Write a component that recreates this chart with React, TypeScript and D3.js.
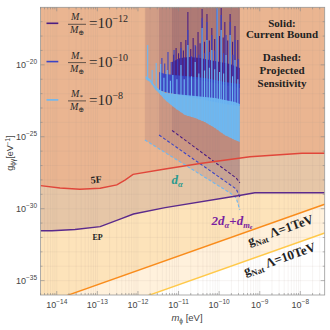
import React from 'react';
import * as d3 from 'd3';

// axis ranges, in log10 units
const mLogRange = [-14.4, -7.4];
const gLogRange = [-36, -16];
const xTickExps = [-14, -13, -12, -11, -10, -9, -8];
const yTickExps = [-35, -30, -25, -20];

// current bounds [log10 m, log10 g]
const fifthForce = [[-14.4, -28.4], [-13.92, -28.56], [-13.43, -28.65], [-12.93, -28.58], [-12.52, -28.35], [-12.32, -28.01], [-12.12, -27.61], [-11.33, -27.24], [-10.47, -26.86], [-9.24, -26.39], [-7.96, -26.15], [-7.4, -26.15]];
const eqPrinciple = [[-14.4, -31.53], [-14.12, -31.53], [-13.55, -31.45], [-12.93, -31.25], [-12.44, -30.72], [-12.11, -30.37], [-11.33, -29.93], [-9.54, -29.1], [-9.12, -28.89], [-7.4, -28.89]];
const gNat1TeV = [[-14.4, -36.69], [-7.4, -29.69]];
const gNat10TeV = [[-14.4, -38.69], [-7.4, -31.69]];

// M*/M_earth = 1e-12, 1e-10, 1e-8
const massExps = ['−12', '−10', '−8'];
const massColors = ['#4b1d82', '#3a44c6', '#6db8f2'];

// dense oscillating bound: [log10 m, upper log10 g, lower log10 g]
const bandM12 = [[-11.16, -19.8, -20.78], [-10.96, -19.52, -20.78], [-10.72, -19.46, -20.91], [-10.47, -19.52, -21.05], [-10.23, -19.66, -21.19], [-9.98, -19.8, -21.33], [-9.73, -19.94, -21.47], [-9.49, -20.22, -21.61]];
const bandM10 = [[-11.48, -20.5, -21.75], [-11.33, -20.64, -21.89], [-11.09, -20.71, -22.03], [-10.84, -20.78, -22.17], [-10.59, -20.85, -22.31], [-10.35, -20.91, -22.44], [-10.1, -21.05, -22.58], [-9.86, -21.19, -22.72], [-9.49, -21.33, -22.86]];
const bandM8 = [[-11.81, -20.78, -20.98], [-11.7, -20.98, -21.19], [-11.58, -21.47, -21.68], [-11.46, -21.75, -22.03], [-11.33, -21.96, -22.44], [-11.09, -22.03, -23.0], [-10.84, -22.1, -23.49], [-10.59, -22.17, -23.7], [-10.35, -22.24, -23.98], [-10.1, -22.31, -24.39], [-9.86, -22.44, -24.88], [-9.61, -22.58, -25.22], [-9.49, -22.72, -25.36]];

// resonance peaks [log10 m, peak log10 g]
const spikesM12 = [[-11.12, -19.3], [-11.06, -18.83], [-11.0, -19.2], [-10.94, -18.41], [-10.88, -19.0], [-10.82, -18.27], [-10.77, -16.33], [-10.7, -18.9], [-10.64, -18.13], [-10.58, -18.7], [-10.52, -17.72], [-10.47, -18.5], [-10.42, -16.12], [-10.36, -18.4], [-10.3, -16.47], [-10.24, -18.3], [-10.18, -17.44], [-10.11, -18.2], [-10.05, -16.05], [-9.99, -18.0], [-9.95, -16.05], [-9.9, -18.1], [-9.86, -17.02], [-9.79, -18.3], [-9.73, -16.47], [-9.67, -18.4], [-9.61, -17.3], [-9.54, -18.27]];
const spikesM10 = [[-11.41, -19.52], [-11.34, -19.9], [-11.26, -19.11], [-11.18, -19.8], [-11.11, -18.97], [-11.02, -19.6], [-10.94, -18.83], [-10.86, -19.5], [-10.77, -17.58], [-10.68, -19.4], [-10.59, -18.62], [-10.5, -19.3], [-10.42, -16.74], [-10.36, -19.2], [-10.3, -17.02], [-10.24, -19.1], [-10.18, -17.93], [-10.11, -19.0], [-10.05, -16.19], [-9.95, -16.54], [-9.89, -19.2], [-9.83, -17.93], [-9.73, -17.02], [-9.66, -19.3], [-9.61, -18.27], [-9.53, -19.6]];
const spikesM8 = [[-11.76, -18.62], [-11.65, -20.36], [-11.55, -19.87], [-11.44, -19.94], [-11.36, -20.9], [-11.28, -20.36], [-11.2, -21.1], [-11.14, -20.71], [-11.04, -21.0], [-10.94, -20.01], [-10.86, -21.0], [-10.77, -18.62], [-10.68, -20.8], [-10.59, -19.8], [-10.5, -20.6], [-10.42, -17.44], [-10.36, -20.4], [-10.3, -18.27], [-10.24, -20.2], [-10.18, -18.97], [-10.11, -20.3], [-10.05, -16.05], [-9.99, -20.5], [-9.95, -17.58], [-9.89, -20.6], [-9.83, -19.32], [-9.73, -17.93], [-9.67, -20.8], [-9.61, -19.66], [-9.54, -21.0]];

// projected sensitivity (dashed)
const dashM12 = [[-11.16, -24.56], [-9.58, -27.87], [-9.49, -28.21]];
const dashM10 = [[-11.48, -24.88], [-9.58, -28.63], [-9.49, -29.19]];
const dashM8 = [[-11.83, -25.22], [-9.73, -28.91], [-9.58, -29.26], [-9.49, -30.09]];

const bands = [bandM12, bandM10, bandM8];
const spikes = [spikesM12, spikesM10, spikesM8];
const dashes = [dashM12, dashM10, dashM8];

const L = 40.5, R = 324.7, T = 7.3, B = 295;
const serif = '"Liberation Serif", "DejaVu Serif", serif';
const sans = '"Liberation Sans", Arial, sans-serif';

export default function App() {
  const x = d3.scaleLog().domain(mLogRange.map(v => 10 ** v)).range([L, R]);
  const y = d3.scaleLog().domain(gLogRange.map(v => 10 ** v)).range([B, T]);
  const px = (e: number) => x(10 ** e);
  const py = (e: number) => y(10 ** e);

  const line = d3.line<number[]>().x(d => px(d[0])).y(d => py(d[1]));
  const toTop = d3.area<number[]>().x(d => px(d[0])).y0(T).y1(d => py(d[1]));
  const band = d3.area<number[]>().x(d => px(d[0])).y0(d => py(d[2])).y1(d => py(d[1]));

  const xMinor: number[] = [];
  for (let d = -15; d <= -8; d++) {
    for (let k = 1; k <= 9; k++) {
      const v = d + Math.log10(k);
      if (v > mLogRange[0] && v < mLogRange[1]) xMinor.push(v);
    }
  }
  const yMinor = d3.range(gLogRange[0] + 1, gLogRange[1]);

  const projected = (dash: number[][]) =>
    line([[dash[0][0], gLogRange[1]], ...dash, [dash[dash.length - 1][0], gLogRange[1]]]) + 'Z';

  return (
    <svg width={330} height={330} style={{ position: 'absolute', left: 0, top: 0, background: '#fff' }}>
      <defs>
        <clipPath id="plot"><rect x={L} y={T} width={R - L} height={B - T} /></clipPath>
      </defs>
      <g clipPath="url(#plot)">
        <rect x={L} y={T} width={R - L} height={B - T} fill="#fff" />
        <path d={toTop(gNat10TeV) || ''} fill="#fff1dc" />
        <path d={toTop(gNat1TeV) || ''} fill="#fde3ba" />
        <path d={toTop(eqPrinciple) || ''} fill="#e6c6a7" />
        <path d={toTop(fifthForce) || ''} fill="#eab591" />
        {/* faint grid */}
        {xMinor.map((v, i) => (
          <line key={'gx' + i} x1={px(v)} x2={px(v)} y1={T} y2={B} stroke="#a89a90" strokeOpacity={0.18} strokeWidth={0.6} />
        ))}
        {yMinor.map((v, i) => (
          <line key={'gy' + i} x1={L} x2={R} y1={py(v)} y2={py(v)} stroke="#a89a90" strokeOpacity={0.18} strokeWidth={0.6} />
        ))}
        {/* projected sensitivity regions */}
        {dashes.map((d, i) => (
          <path key={'pr' + i} d={projected(d)} fill="#6e3c5a" fillOpacity={0.13} />
        ))}
        {/* current bound regions */}
        {bands.map((b, i) => (
          <path key={'cb' + i} d={toTop(b) || ''} fill="#6e3c5a" fillOpacity={0.07} />
        ))}
        {bands.map((b, i) => {
          const baseAt = d3.scaleLinear().domain(b.map(d => d[0])).range(b.map(d => d[2])).clamp(true);
          return (
            <g key={'bd' + i}>
              <path d={band(b) || ''} fill={massColors[i]} fillOpacity={0.92} />
              {spikes[i].map((s, j) => (
                <line key={j} x1={px(s[0])} x2={px(s[0])} y1={py(s[1])} y2={py(baseAt(s[0]))}
                  stroke={massColors[i]} strokeWidth={1.1} />
              ))}
            </g>
          );
        })}
        {dashes.map((d, i) => (
          <path key={'ds' + i} d={line(d) || ''} fill="none" stroke={massColors[i]} strokeWidth={1.1} strokeDasharray="3,2" />
        ))}
        <path d={line(fifthForce) || ''} fill="none" stroke="#e0463a" strokeWidth={1.4} />
        <path d={line(eqPrinciple) || ''} fill="none" stroke="#5b2a8c" strokeWidth={1.4} />
        <path d={line(gNat1TeV) || ''} fill="none" stroke="#f98c1c" strokeWidth={1.4} />
        <path d={line(gNat10TeV) || ''} fill="none" stroke="#ffc94a" strokeWidth={1.4} />
      </g>

      {/* frame and ticks */}
      <rect x={L} y={T} width={R - L} height={B - T} fill="none" stroke="#999" strokeWidth={0.8} />
      {xMinor.map((v, i) => {
        const major = xTickExps.includes(v);
        const len = major ? 4 : 2;
        return (
          <g key={'tx' + i} stroke="#888" strokeWidth={0.6}>
            <line x1={px(v)} x2={px(v)} y1={B} y2={B - len} />
            <line x1={px(v)} x2={px(v)} y1={T} y2={T + len} />
          </g>
        );
      })}
      {yMinor.map((v, i) => {
        const len = yTickExps.includes(v) ? 4 : 2;
        return (
          <g key={'ty' + i} stroke="#888" strokeWidth={0.6}>
            <line x1={L} x2={L + len} y1={py(v)} y2={py(v)} />
            <line x1={R} x2={R - len} y1={py(v)} y2={py(v)} />
          </g>
        );
      })}
      {xTickExps.map(e => (
        <text key={'lx' + e} x={px(e)} y={B + 13} textAnchor="middle" fontFamily={sans} fontSize={9} fill="#444">
          10<tspan dy={-4} fontSize={6.5}>{'−' + Math.abs(e)}</tspan>
        </text>
      ))}
      {yTickExps.map(e => (
        <text key={'ly' + e} x={37} y={py(e) + 3} textAnchor="end" fontFamily={sans} fontSize={9} fill="#444">
          10<tspan dy={-4} fontSize={6.5}>{'−' + Math.abs(e)}</tspan>
        </text>
      ))}
      <text transform="translate(13,153) rotate(-90)" textAnchor="middle" fontFamily={sans} fontSize={9} fill="#444">
        g<tspan dy={2} fontSize={6.5}>ϕγ</tspan><tspan dy={-2}>[eV</tspan><tspan dy={-3.5} fontSize={6.5}>−1</tspan><tspan dy={3.5}>]</tspan>
      </text>
      <text x={187} y={321} textAnchor="middle" fontFamily={sans} fontSize={9.5} fill="#444">
        <tspan fontStyle="italic">m</tspan><tspan dy={2} fontSize={6.5}>ϕ</tspan><tspan dy={-2}> [eV]</tspan>
      </text>

      {/* legend */}
      {massExps.map((e, i) => {
        const oy = 23.3 + i * 38.3;
        return (
          <g key={'lg' + i} fontFamily={serif} fill="#2a2a2a">
            <line x1={46.5} x2={58.3} y1={oy} y2={oy} stroke={massColors[i]} strokeWidth={1.6} />
            <text x={77} y={oy - 3} textAnchor="middle" fontSize={10} fontStyle="italic">
              M<tspan dy={2} fontSize={7} fontStyle="normal">*</tspan>
            </text>
            <line x1={68} x2={86} y1={oy + 1} y2={oy + 1} stroke="#2a2a2a" strokeWidth={0.7} />
            <text x={77} y={oy + 10} textAnchor="middle" fontSize={10} fontStyle="italic">
              M<tspan dy={2} fontSize={7} fontStyle="normal">⊕</tspan>
            </text>
            <text x={89} y={oy + 5} fontSize={15}>
              =10<tspan dy={-6} fontSize={10}>{e}</tspan>
            </text>
          </g>
        );
      })}

      {/* annotations */}
      <g fontFamily={serif} fontWeight="bold" fontSize={11} fill="#222" textAnchor="middle">
        <text x={282} y={27}>Solid:</text>
        <text x={282} y={38}>Current Bound</text>
        <text x={282} y={61}>Dashed:</text>
        <text x={282} y={74}>Projected</text>
        <text x={282} y={87}>Sensitivity</text>
      </g>
      <text transform="translate(96.5,183) rotate(-6)" textAnchor="middle" fontFamily={serif} fontWeight="bold" fontSize={10} fill="#222">5F</text>
      <text x={97.5} y={240} textAnchor="middle" fontFamily={serif} fontWeight="bold" fontSize={8} fill="#222">EP</text>
      <text x={177} y={184} textAnchor="middle" fontFamily={serif} fontWeight="bold" fontStyle="italic" fontSize={13} fill="#2a9a8e">
        d<tspan dy={2.5} fontSize={8.5}>α</tspan>
      </text>
      <text x={232} y={225} textAnchor="middle" fontFamily={serif} fontWeight="bold" fontStyle="italic" fontSize={13} fill="#7a1fa0">
        2d<tspan dy={2.5} fontSize={8.5}>α</tspan><tspan dy={-2.5} fontStyle="normal">+</tspan>d<tspan dy={2.5} fontSize={8.5}>m</tspan><tspan dy={1.5} fontSize={6}>e</tspan>
      </text>
      <text transform="translate(282,234) rotate(-19.5)" textAnchor="middle" fontFamily={serif} fontWeight="bold" fontSize={13} fill="#222">
        g<tspan dy={3} fontSize={8.5}>Nat</tspan><tspan dy={-3}> Λ=1TeV</tspan>
      </text>
      <text transform="translate(281,263) rotate(-19.5)" textAnchor="middle" fontFamily={serif} fontWeight="bold" fontSize={13} fill="#222">
        g<tspan dy={3} fontSize={8.5}>Nat</tspan><tspan dy={-3}> Λ=10TeV</tspan>
      </text>
    </svg>
  );
}
